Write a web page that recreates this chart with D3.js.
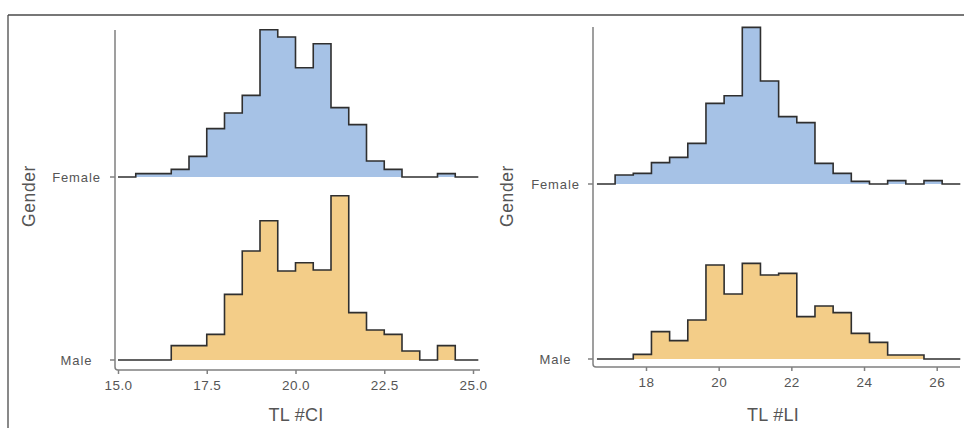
<!DOCTYPE html>
<html>
<head>
<meta charset="utf-8">
<script src="https://cdn.jsdelivr.net/npm/d3@7"></script>
<style>
  html, body { margin: 0; padding: 0; background: #ffffff; }
  svg { display: block; }
  text { font-family: "Liberation Sans", Arial, sans-serif; }
</style>
</head>
<body>
<svg id="chart" width="964" height="428"></svg>
<script>
// ---------------- DATA ----------------
const groups = ["Female", "Male"];
const binWidth = 0.5;

// Left panel: TL #CI  (bins start at 15.0)
const binStartCI = 15.0;
const femaleCI = [0, 1.0, 1.0, 2.3, 6.2, 14.5, 19.2, 24.5, 44.2, 42.0, 32.8, 40.0, 20.8, 15.7, 4.8, 2.3, 0, 0, 1.0, 0];
const maleCI   = [0, 0, 0, 4.3, 4.3, 7.7, 19.7, 32.7, 41.8, 26.7, 29.2, 27.0, 49.3, 14.2, 9.0, 7.7, 2.7, 0, 4.3, 0];
const ticksCI = [15.0, 17.5, 20.0, 22.5, 25.0];
const lineRangeCI = [15.0, 25.15];

// Right panel: TL #LI  (bins start at 17.15)
const binStartLI = 17.15;
const femaleLI = [2.7, 3.2, 6.4, 8.0, 12.2, 24.2, 26.5, 47.0, 30.9, 20.2, 18.4, 6.2, 3.2, 0.8, 0, 1.0, 0, 1.0, 0];
const maleLI   = [0, 1.4, 8.2, 5.5, 11.7, 28.2, 19.5, 28.7, 25.2, 25.7, 12.7, 15.9, 13.9, 7.7, 5.0, 1.2, 1.2, 0, 0];
const ticksLI = [18, 20, 22, 24, 26];
const lineRangeLI = [16.65, 26.6];

const axisTitles = ["TL #CI", "TL #LI"];
const yTitle = "Gender";

// ---------------- STYLE / LAYOUT ----------------
const colors = { Female: "#a6c2e6", Male: "#f3cd88" };
const outline = "#2f2f2f";
const axisColor = "#808080";
const textColor = "#555555";

const svg = d3.select("#chart");

// outer frame
svg.append("line").attr("x1", 8).attr("x2", 964).attr("y1", 15).attr("y2", 15)
  .attr("stroke", "#4a4a4a").attr("stroke-width", 1.3);
svg.append("line").attr("x1", 8).attr("x2", 8).attr("y1", 15).attr("y2", 428)
  .attr("stroke", "#4a4a4a").attr("stroke-width", 1.3);

// px per count unit
const hScale = d3.scaleLinear().domain([0, 10]).range([0, 33.33]);

const panels = [
  {
    title: axisTitles[0], binStart: binStartCI, data: { Female: femaleCI, Male: maleCI },
    ticks: ticksCI, fmt: d3.format(".1f"), lineRange: lineRangeCI,
    xDomain: [15, 25], xRange: [118, 473],
    axisX: 115, axisTop: 30, axisBottom: 370, axisRight: 480,
    base: { Female: 177, Male: 360 }, labelX: 76.5, yTitleX: 35, titleX: 296
  },
  {
    title: axisTitles[1], binStart: binStartLI, data: { Female: femaleLI, Male: maleLI },
    ticks: ticksLI, fmt: d3.format("d"), lineRange: lineRangeLI,
    xDomain: [18, 26], xRange: [646, 936.7],
    axisX: 593, axisTop: 27, axisBottom: 367, axisRight: 960,
    base: { Female: 184, Male: 359 }, labelX: 555.5, yTitleX: 513, titleX: 773
  }
];

panels.forEach(p => {
  const g = svg.append("g");
  const x = d3.scaleLinear().domain(p.xDomain).range(p.xRange);

  // ridges (Male drawn first, Female on top)
  ["Male", "Female"].forEach(grp => {
    const vals = p.data[grp];
    const base = p.base[grp];
    const pts = [[p.lineRange[0], 0]];
    vals.forEach((v, i) => pts.push([p.binStart + i * binWidth, v]));
    pts.push([p.binStart + vals.length * binWidth, 0]);
    pts.push([p.lineRange[1], 0]);

    const area = d3.area()
      .x(d => x(d[0]))
      .y0(base)
      .y1(d => base - hScale(d[1]))
      .curve(d3.curveStepAfter);
    const line = d3.line()
      .x(d => x(d[0]))
      .y(d => base - hScale(d[1]))
      .curve(d3.curveStepAfter);

    g.append("path").attr("d", area(pts)).attr("fill", colors[grp]).attr("stroke", "none");
    g.append("path").attr("d", line(pts)).attr("fill", "none")
      .attr("stroke", outline).attr("stroke-width", 1.6).attr("stroke-linejoin", "miter");
  });

  // axis lines
  g.append("path")
    .attr("d", `M${p.axisX},${p.axisTop}V${p.axisBottom - 3}Q${p.axisX},${p.axisBottom} ${p.axisX + 3},${p.axisBottom}H${p.axisRight}`)
    .attr("fill", "none").attr("stroke", axisColor).attr("stroke-width", 1.5);

  // x axis ticks
  const xAxis = d3.axisBottom(x).tickValues(p.ticks).tickFormat(p.fmt).tickSize(4).tickPadding(6);
  const xa = g.append("g").attr("transform", `translate(0,${p.axisBottom})`).call(xAxis);
  xa.select(".domain").remove();
  xa.selectAll(".tick line").attr("stroke", axisColor).attr("stroke-width", 1.5);
  xa.selectAll(".tick text").attr("fill", textColor).attr("font-size", 13.5)
    .attr("font-family", "Liberation Sans, Arial, sans-serif").attr("letter-spacing", 0.4);

  // y axis ticks and labels
  groups.forEach(grp => {
    const y = p.base[grp];
    g.append("line").attr("x1", p.axisX - 5).attr("x2", p.axisX).attr("y1", y).attr("y2", y)
      .attr("stroke", axisColor).attr("stroke-width", 1.5);
    g.append("text").attr("x", p.labelX).attr("y", y + 4.5).attr("text-anchor", "middle")
      .attr("fill", textColor).attr("font-size", 13).attr("letter-spacing", 0.9).text(grp);
  });

  // axis titles
  g.append("text").attr("x", p.titleX).attr("y", 421).attr("text-anchor", "middle")
    .attr("fill", textColor).attr("font-size", 18).attr("letter-spacing", 0.3).text(p.title);
  g.append("text").attr("transform", `translate(${p.yTitleX},196) rotate(-90)`)
    .attr("text-anchor", "middle").attr("fill", textColor).attr("font-size", 17.5)
    .attr("letter-spacing", 0.6).text(yTitle);
});
</script>
</body>
</html>
